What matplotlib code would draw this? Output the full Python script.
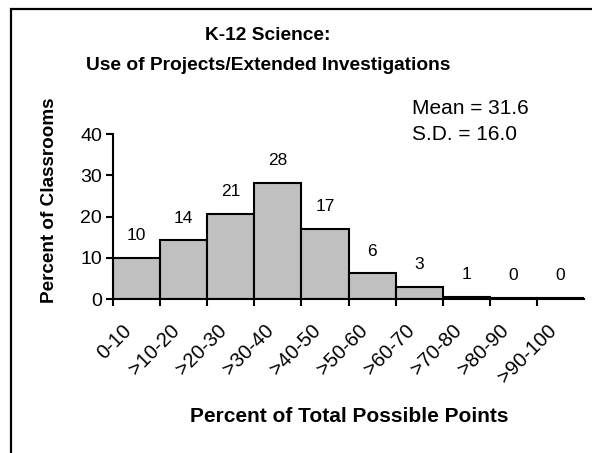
import matplotlib
matplotlib.use("Agg")
import matplotlib.pyplot as plt
from matplotlib.patches import Rectangle
import matplotlib.transforms as mtransforms

plt.rcParams['font.family'] = ['Liberation Sans', 'DejaVu Sans']

categories = ["0-10", ">10-20", ">20-30", ">30-40", ">40-50", ">50-60",
              ">60-70", ">70-80", ">80-90", ">90-100"]
heights = [10.0, 14.2, 20.6, 28.2, 17.0, 6.2, 3.0, 0.6, 0.3, 0.3]
labels = ["10", "14", "21", "28", "17", "6", "3", "1", "0", "0"]
yticks = [0, 10, 20, 30, 40]

W, H = 592, 453
fig = plt.figure(figsize=(W / 100, H / 100), dpi=100)

# border (left and top only visible)
fig.patches.append(Rectangle((11 / W, -0.1), 1.2, 1 - 9 / H + 0.1,
                             transform=fig.transFigure, fill=False,
                             edgecolor='black', linewidth=1.6))

ax = fig.add_axes([113 / W, 1 - 299 / H, (584 - 113) / W, (299 - 134) / H])
x = list(range(len(categories)))
ax.bar(x, heights, width=1.0, align='edge', color='#c0c0c0',
       edgecolor='black', linewidth=1.5)
for xi, h, lab in zip(x, heights, labels):
    ax.annotate(lab, (xi + 0.5, h), xytext=(0, 10.5), textcoords='offset points',
                ha='center', va='bottom', fontsize=12.5)

ax.set_xlim(0, 10)
ax.set_ylim(0, 40)
ax.set_yticks(yticks)
ax.tick_params(axis='y', labelsize=14, length=5, width=1.5, pad=3)
ax.set_xticks(x)
ax.set_xticklabels([])
ax.tick_params(axis='x', length=5, width=1.5)
for s in ['top', 'right']:
    ax.spines[s].set_visible(False)
for s in ['left', 'bottom']:
    ax.spines[s].set_linewidth(1.5)

# rotated category labels
offset = mtransforms.ScaledTranslation(0, -22 / 100, fig.dpi_scale_trans)
trans = mtransforms.blended_transform_factory(ax.transData, ax.transAxes) + offset
for xi, cat in zip(x, categories):
    ax.text(xi + 0.2, 0, cat, transform=trans, rotation=45,
            rotation_mode='anchor', ha='right', va='top', fontsize=14.5)

fig.text(268 / W, 1 - 35 / H, "K-12 Science:", ha='center', va='center',
         fontsize=13.8, fontweight='bold')
fig.text(268 / W, 1 - 65 / H, "Use of Projects/Extended Investigations",
         ha='center', va='center', fontsize=13.8, fontweight='bold')
fig.text(349 / W, 1 - 416 / H, "Percent of Total Possible Points",
         ha='center', va='center', fontsize=15, fontweight='bold')
fig.text(50 / W, 1 - 200 / H, "Percent of Classrooms", ha='center',
         va='center', rotation=90, fontsize=13.6, fontweight='bold')
fig.text(412 / W, 1 - 108 / H, "Mean = 31.6", ha='left', va='center', fontsize=15)
fig.text(412 / W, 1 - 135 / H, "S.D. = 16.0", ha='left', va='center', fontsize=15)

fig.savefig("out.png", dpi=100)
